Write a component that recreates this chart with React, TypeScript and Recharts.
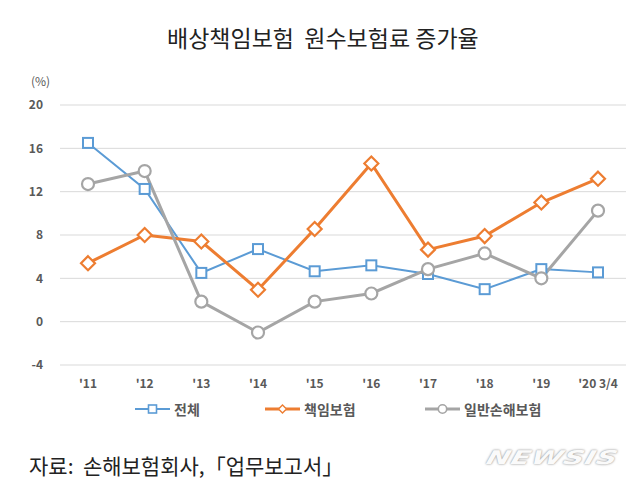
import React from "react";
import { LineChart, Line, XAxis, YAxis, CartesianGrid } from "recharts";

const categories = ["'11", "'12", "'13", "'14", "'15", "'16", "'17", "'18", "'19", "'20 3/4"];
const totalSeries = [16.5, 12.25, 4.5, 6.7, 4.65, 5.2, 4.4, 3.0, 4.85, 4.55];
const liabilitySeries = [5.4, 8.0, 7.4, 2.95, 8.55, 14.6, 6.65, 7.9, 11.0, 13.2];
const generalSeries = [12.7, 13.9, 1.85, -1.0, 1.85, 2.6, 4.85, 6.3, 4.0, 10.25];
const yTicks = [-4, 0, 4, 8, 12, 16, 20];

const data = categories.map((c, i) => ({
  name: c,
  total: totalSeries[i],
  liability: liabilitySeries[i],
  general: generalSeries[i],
}));

const BLUE = "#5b9bd5";
const ORANGE = "#ed7d31";
const GRAY = "#a5a5a5";
const FONT = "'Noto Sans CJK KR', 'Noto Sans', sans-serif";

const SquareDot = (p: any) => (
  <rect key={p.index} x={p.cx - 5} y={p.cy - 5} width={10} height={10} fill="#fff" stroke={BLUE} strokeWidth={2} />
);
const DiamondDot = (p: any) => (
  <polygon
    key={p.index}
    points={`${p.cx},${p.cy - 7} ${p.cx + 7},${p.cy} ${p.cx},${p.cy + 7} ${p.cx - 7},${p.cy}`}
    fill="#fff"
    stroke={ORANGE}
    strokeWidth={2.2}
  />
);
const CircleDot = (p: any) => (
  <circle key={p.index} cx={p.cx} cy={p.cy} r={6} fill="#fff" stroke={GRAY} strokeWidth={2.2} />
);

const LegendItem = ({ color, kind, label, left }: any) => (
  <div style={{ position: "absolute", left, top: 400, display: "flex", alignItems: "center", height: 18 }}>
    <svg width={35} height={14}>
      <line x1={0} y1={7} x2={35} y2={7} stroke={color} strokeWidth={kind === "sq" ? 2 : 3} />
      {kind === "sq" && <rect x={13.5} y={3} width={8} height={8} fill="#fff" stroke={color} strokeWidth={1.6} />}
      {kind === "dm" && <polygon points="17.5,3 21.5,7 17.5,11 13.5,7" fill="#fff" stroke={color} strokeWidth={1.4} />}
      {kind === "ci" && <circle cx={17.5} cy={7} r={4.2} fill="#fff" stroke={color} strokeWidth={1.6} />}
    </svg>
    <span style={{ marginLeft: 4, fontSize: 14, fontWeight: 700, color: "#595959", fontFamily: FONT }}>{label}</span>
  </div>
);

export default function App() {
  return (
    <div style={{ position: "absolute", left: 0, top: 0, width: 640, height: 493, background: "#fff", fontFamily: FONT }}>
      <div
        style={{
          position: "absolute",
          left: 167,
          top: 20,
          fontSize: 23,
          color: "#222",
          whiteSpace: "pre",
        }}
      >
        배상책임보험  원수보험료 증가율
      </div>
      <div style={{ position: "absolute", left: 31, top: 72, fontSize: 12, color: "#595959" }}>(%)</div>
      <div style={{ position: "absolute", left: 0, top: 0 }}>
        <LineChart width={640} height={395} data={data} margin={{ top: 105, right: 14, left: 20, bottom: 0 }}>
          <CartesianGrid horizontal vertical={false} stroke="#d9d9d9" />
          <XAxis
            dataKey="name"
            axisLine={false}
            tickLine={false}
            tickSize={0}
            tickMargin={14}
            height={30}
            padding={{ left: 28, right: 28 }}
            tick={{ fontSize: 12, fill: "#595959", fontWeight: 700 }}
            interval={0}
          />
          <YAxis
            domain={[-4, 20]}
            ticks={yTicks}
            axisLine={false}
            tickLine={false}
            tickSize={0}
            tickMargin={17}
            width={40}
            tick={{ fontSize: 12, fill: "#595959", fontWeight: 700 }}
          />
          <Line dataKey="total" stroke={BLUE} strokeWidth={2} dot={SquareDot} isAnimationActive={false} />
          <Line dataKey="liability" stroke={ORANGE} strokeWidth={3} dot={DiamondDot} isAnimationActive={false} />
          <Line dataKey="general" stroke={GRAY} strokeWidth={3} dot={CircleDot} isAnimationActive={false} />
        </LineChart>
      </div>
      <LegendItem color={BLUE} kind="sq" label="전체" left={135} />
      <LegendItem color={ORANGE} kind="dm" label="책임보험" left={265} />
      <LegendItem color={GRAY} kind="ci" label="일반손해보험" left={425} />
      <div
        style={{
          position: "absolute",
          left: 29,
          top: 450,
          fontSize: 21,
          color: "#222",
          whiteSpace: "pre",
        }}
      >
        자료:  손해보험회사,「업무보고서」
      </div>
      <div
        style={{
          position: "absolute",
          left: 490,
          top: 446,
          fontSize: 19,
          fontWeight: 900,
          fontStyle: "italic",
          color: "#fafafa",
          textShadow: "0 0 2px #9a9a9a, 0 0 1px #b8b8b8",
          fontFamily: "'DejaVu Sans', sans-serif",
          letterSpacing: 0.5,
          transform: "scaleX(1.5) skewX(-10deg)",
          transformOrigin: "left top",
        }}
      >
        NEWSIS
      </div>
    </div>
  );
}
